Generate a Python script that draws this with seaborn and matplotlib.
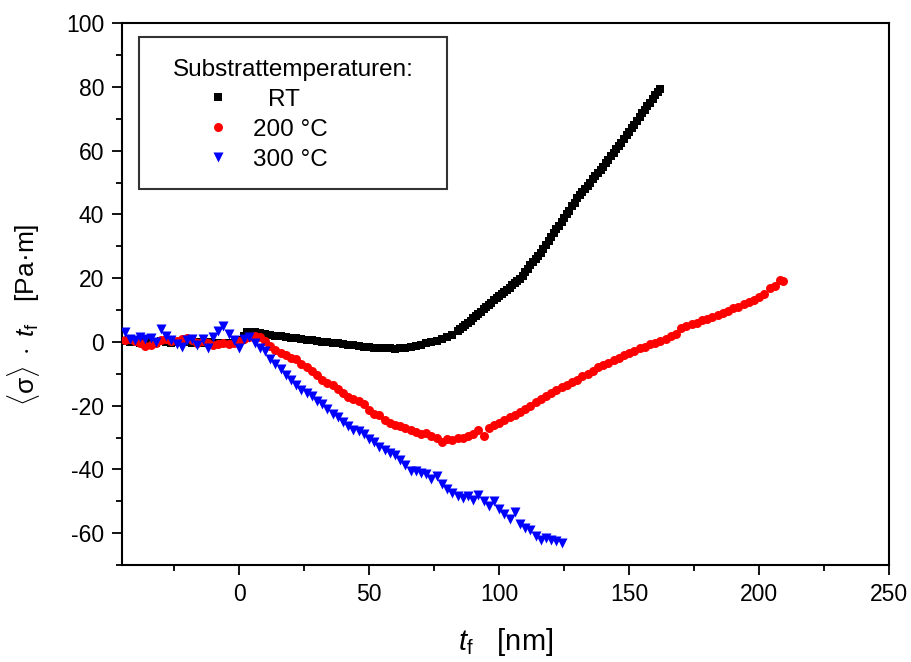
import numpy as np
import pandas as pd
import matplotlib
matplotlib.use("Agg")
import matplotlib.pyplot as plt
import seaborn as sns
from matplotlib.patches import Rectangle
from matplotlib.ticker import MultipleLocator

# --- data: film thickness t_f [nm] vs. force per width <sigma>*t_f [Pa*m] ---
rt_t = [-44, -42, -40, -38, -36, -34, -32, -30, -28, -26, -24, -22, -20, -18, -16,
        -14, -12, -10, -8, -6, -4, -2, 0, 1, 2, 3, 4, 6, 8, 10, 12, 14, 16, 18, 20,
        22, 24, 26, 28, 30, 32, 34, 36, 38, 40, 42, 44, 46, 48, 50, 52, 54, 56, 58,
        60, 62, 64, 66, 68, 70, 72, 74, 76, 78, 80, 82, 84, 85, 86, 87, 88, 89, 90,
        91, 92, 93, 94, 95, 96, 97, 98, 99, 100, 101, 102, 103, 104, 105, 106, 107,
        108, 109, 110, 111, 112, 113, 114, 115, 116, 117, 118, 119, 120, 121, 122,
        123, 124, 125, 126, 127, 128, 129, 130, 131, 132, 133, 134, 135, 136, 137,
        138, 139, 140, 141, 142, 143, 144, 145, 146, 147, 148, 149, 150, 151, 152,
        153, 154, 155, 156, 157, 158, 159, 160, 161, 162]
rt_f = [0.3, 0.0, 0.2, -0.2, 0.1, 0.0, -0.3, 0.2, 0.0, -0.2, 0.1, -0.1, 0.0, -0.3, 0.0,
        -0.2, -0.1, -0.3, -0.2, -0.4, -0.3, -0.5, -0.4, 0.5, 2.0, 3.0, 3.2, 3.0, 2.8,
        2.5, 2.2, 2.0, 1.8, 1.5, 1.3, 1.1, 0.9, 0.7, 0.5, 0.3, 0.1, -0.1, -0.3, -0.5,
        -0.7, -0.9, -1.1, -1.3, -1.5, -1.6, -1.8, -1.9, -2.0, -2.0, -2.1, -2.0, -1.8,
        -1.5, -1.2, -0.9, -0.5, -0.1, 0.3, 0.8, 1.5, 2.3, 3.4, 4.0, 4.6, 5.3, 6.0,
        6.7, 7.4, 8.1, 8.8, 9.5, 10.2, 10.9, 11.5, 12.2, 13.0, 13.7, 14.5, 15.1, 15.8,
        16.4, 17.0, 17.7, 18.4, 19.0, 19.7, 20.7, 21.8, 22.9, 24.0, 25.0, 26.0, 27.0,
        28.0, 29.3, 30.5, 31.8, 33.0, 34.1, 35.3, 36.4, 37.5, 38.8, 40.0, 41.2, 42.5,
        43.7, 45.0, 46.0, 47.0, 48.0, 49.0, 50.0, 51.0, 52.0, 53.0, 54.0, 55.0, 56.1,
        57.2, 58.2, 59.3, 60.4, 61.5, 62.5, 63.6, 64.8, 66.0, 67.1, 68.2, 69.4, 70.5,
        71.7, 72.8, 73.9, 75.0, 76.3, 77.5, 78.5, 79.5]

t200_t = [-44, -42, -40, -38, -36, -34, -32, -30, -28, -26, -24, -22, -20, -18, -16,
          -14, -12, -10, -8, -6, -4, -2, 0, 2, 4, 6, 8, 10, 12, 14, 16, 18, 20, 22, 24,
          26, 28, 30, 32, 34, 36, 38, 40, 42, 44, 46, 48, 50, 52, 54, 56, 58, 60, 62,
          64, 66, 68, 70, 72, 74, 76, 78, 80, 82, 84, 86, 88, 90, 92, 94, 96, 98, 100,
          102, 104, 106, 108, 110, 112, 114, 116, 118, 120, 122, 124, 126, 128, 130,
          132, 134, 136, 138, 140, 142, 144, 146, 148, 150, 152, 154, 156, 158, 160,
          162, 164, 166, 168, 170, 172, 174, 176, 178, 180, 182, 184, 186, 188, 190,
          192, 194, 196, 198, 200, 202, 204, 206, 208, 209]
t200_f = [0.5, 1.0, 0.3, -0.5, -1.2, -1.0, -0.3, 0.5, 0.8, 0.2, 0.4, 0.9, 1.3, 0.6,
          -0.2, 0.3, -0.5, -1.0, -0.6, -0.3, -0.8, -0.5, 0.2, 0.8, 1.5, 1.8, 1.5, 0.3,
          -1.2, -2.5, -3.5, -4.2, -5.0, -5.5, -6.8, -7.8, -9.0, -10.5, -12.0, -13.0,
          -13.5, -14.8, -16.0, -17.2, -17.8, -18.5, -19.5, -21.5, -22.5, -23.0, -24.5,
          -25.5, -26.0, -26.3, -27.0, -27.5, -28.2, -28.8, -28.5, -29.5, -30.0, -31.5,
          -30.5, -30.8, -30.0, -30.2, -29.5, -28.8, -27.5, -29.5, -27.0, -26.0, -25.5,
          -24.5, -23.5, -22.8, -22.0, -21.0, -20.0, -19.0, -18.0, -17.0, -16.0, -15.0,
          -14.2, -13.5, -12.5, -11.8, -10.8, -10.0, -9.0, -8.0, -7.3, -6.5, -5.8, -5.0,
          -4.2, -3.5, -2.8, -2.0, -1.5, -0.8, -0.2, 0.3, 1.0, 1.8, 2.5, 4.5, 5.0, 5.5,
          6.0, 6.8, 7.2, 7.8, 8.5, 9.0, 9.8, 10.5, 11.0, 11.8, 12.5, 13.0, 14.0, 15.0,
          17.0, 17.5, 19.5, 19.0]

t300_t = [-44, -42, -40, -38, -36, -34, -32, -30, -28, -26, -24, -22, -20, -18, -16,
          -14, -12, -10, -8, -6, -4, -2, 0, 2, 4, 6, 8, 10, 12, 14, 16, 18, 20, 22, 24,
          26, 28, 30, 32, 34, 36, 38, 40, 42, 44, 46, 48, 50, 52, 54, 56, 58, 60, 62,
          64, 66, 68, 70, 72, 74, 76, 78, 80, 82, 84, 86, 88, 90, 92, 94, 96, 98, 100,
          102, 104, 106, 108, 110, 112, 114, 116, 118, 120, 122, 124]
t300_f = [3.0, 1.0, 0.5, 1.5, 0.8, 1.2, 0.0, 4.0, 2.0, 0.5, -0.8, -1.5, 0.5, 1.0, -1.0,
          0.8, -2.0, 1.5, 3.5, 5.0, 2.5, 0.5, -2.0, 1.0, 1.5, -0.5, -2.0, -3.0, -5.5,
          -7.0, -8.5, -10.5, -12.0, -13.5, -15.0, -16.0, -17.0, -18.5, -19.5, -21.0,
          -22.5, -23.5, -25.0, -26.5, -27.5, -28.0, -29.0, -30.5, -31.5, -33.0, -34.0,
          -35.0, -35.5, -37.0, -38.5, -40.5, -40.5, -41.0, -41.5, -43.0, -42.0, -44.5,
          -46.0, -47.5, -48.5, -49.0, -48.5, -49.5, -48.0, -50.0, -51.5, -50.0, -52.5,
          -54.0, -55.5, -53.5, -57.0, -58.5, -59.0, -61.0, -62.0, -61.5, -62.0, -62.5,
          -63.0]

series_labels = ["RT", "200 °C", "300 °C"]
legend_title = "Substrattemperaturen:"

sns.set_theme(style="white")
plt.rcParams["font.family"] = ["Liberation Sans", "DejaVu Sans"]
plt.rcParams["mathtext.fontset"] = "custom"
plt.rcParams["mathtext.rm"] = "Liberation Sans"
plt.rcParams["mathtext.it"] = "Liberation Sans:italic"
plt.rcParams["mathtext.sf"] = "Liberation Sans"
plt.rcParams["axes.unicode_minus"] = False
for key in ["text.color", "axes.labelcolor", "xtick.color", "ytick.color"]:
    plt.rcParams[key] = "black"

fig = plt.figure(figsize=(9.11, 6.62), dpi=100)
ax = fig.add_axes([0.134, 0.1465, 0.842, 0.8185])

styles = [
    (rt_t, rt_f, "s", "black", 36),
    (t200_t, t200_f, "o", "red", 42),
    (t300_t, t300_f, "v", "blue", 52),
]
for (tx, fy, mk, col, sz), lab in zip(styles, series_labels):
    df = pd.DataFrame({"t_f": tx, "F": fy})
    sns.scatterplot(data=df, x="t_f", y="F", marker=mk, color=col, s=sz,
                    linewidth=0, ax=ax, legend=False, zorder=3)

ax.set_xlim(-45, 250)
ax.set_ylim(-70, 100)
ax.xaxis.set_major_locator(MultipleLocator(50))
ax.xaxis.set_minor_locator(MultipleLocator(25))
ax.yaxis.set_minor_locator(MultipleLocator(10))
ax.set_yticks([-60, -40, -20, 0, 20, 40, 60, 80, 100])
ax.tick_params(which="major", direction="out", length=7, width=1.3, color="black",
               labelsize=16.5, labelcolor="black", bottom=True, left=True,
               top=False, right=False, pad=6)
ax.tick_params(which="minor", direction="out", length=4, width=1.3, color="black",
               bottom=True, left=True, top=False, right=False)
for sp in ax.spines.values():
    sp.set_visible(True)
    sp.set_color("black")
    sp.set_linewidth(1.5)

ax.set_xlabel(r"$t_{\mathrm{f}}$   [nm]", fontsize=21, labelpad=14, color="black")
ax.set_ylabel(r"$\langle\mathrm{\sigma}\rangle\;\cdot\;t_{\mathrm{f}}$   [Pa·m]",
              fontsize=19, color="black")
ax.yaxis.set_label_coords(-0.104, 0.461)

# legend box drawn in axes coordinates
ax.add_patch(Rectangle((0.0222, 0.6937), 0.4015, 0.2803, transform=ax.transAxes,
                       fill=True, facecolor="white", edgecolor="#333333",
                       linewidth=1.5, zorder=5))
ax.text(0.2236, 0.9188, legend_title, transform=ax.transAxes, ha="center",
        va="center_baseline", fontsize=17.5, color="black", zorder=6)
entry_y = [0.8635, 0.8081, 0.7528]
text_x = [0.1904, 0.1708, 0.1708]
for (tx, fy, mk, col, sz), lab, yy, xx in zip(styles, series_labels, entry_y, text_x):
    ax.scatter([0.1252], [yy], marker=mk, color=col, s=sz, linewidths=0,
               transform=ax.transAxes, zorder=6, clip_on=False)
    ax.text(xx, yy, lab, transform=ax.transAxes, ha="left", va="center_baseline",
            fontsize=17.5, color="black", zorder=6)

fig.savefig("out.png", dpi=100, facecolor="white")
